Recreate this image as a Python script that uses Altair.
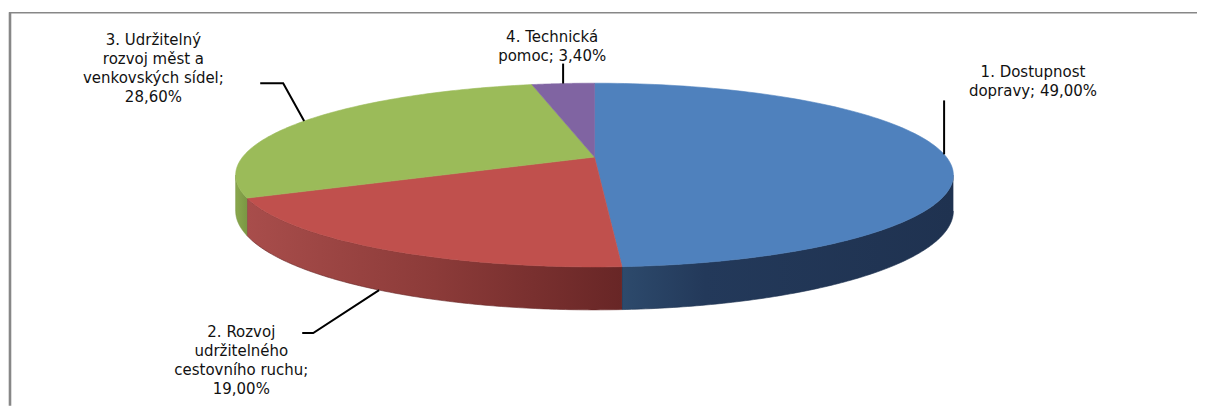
import altair as alt
import pandas as pd

# ---------------- data ----------------
categories = [
    "1. Dostupnost dopravy",
    "2. Rozvoj udržitelného cestovního ruchu",
    "3. Udržitelný rozvoj měst a venkovských sídel",
    "4. Technická pomoc",
]
values = [49.0, 19.0, 28.6, 3.4]
label_texts = [
    "1. Dostupnost\ndopravy; 49,00%",
    "2. Rozvoj\nudržitelného\ncestovního ruchu;\n19,00%",
    "3. Udržitelný\nrozvoj měst a\nvenkovských sídel;\n28,60%",
    "4. Technická\npomoc; 3,40%",
]

# ---------------- styles / layout ----------------
top_colors = ["#4F81BD", "#C0504D", "#9BBB59", "#8064A2"]
wall_stops = [
    [("#2d4a6c", 0.0), ("#23395a", 0.25), ("#1f3250", 1.0)],
    [("#a84d4b", 0.0), ("#8c3b39", 0.5), ("#682626", 1.0)],
    [("#8aa84e", 0.0), ("#7a9643", 1.0)],
    [("#5e4a7a", 0.0), ("#4a3a60", 1.0)],
]
# label text offsets (centre x, first baseline y) relative to the slice anchor
lab_dx = [89, -138, -151, -11]
lab_dy = [-77, 47, -76, -42]
# leader line elbow / end offsets relative to the slice anchor
elb_dx = [0, -66, -21, 0]
elb_dy = [-54, 43, -38, -20]
end_dx = [0, -77, -44, 0]
end_dy = [-54, 43, -38, -20]

W, H = 1190, 398
CX, CY, RX, RY, K, D = 586.5, 149.0, 352.5, 88.5, 0.1957, 34.6
N = 120
AV0 = "acos(-%s)" % K
AV1 = "(2*PI-acos(-%s))" % K

df = pd.DataFrame({
    "idx": list(range(len(categories))),
    "cat": categories,
    "value": values,
    "label": label_texts,
    "lab_dx": lab_dx, "lab_dy": lab_dy,
    "elb_dx": elb_dx, "elb_dy": elb_dy,
    "end_dx": end_dx, "end_dy": end_dy,
})


def px(a):
    return f"({CX}+{RX}*sin({a})/(1+{K}*cos({a})))"


def py(a):
    return f"({CY}-{RY}*cos({a})/(1+{K}*cos({a})))"


def dep(a):
    return f"({D}/(1+{K}*cos({a})))"


X = alt.X("px:Q", scale=alt.Scale(domain=[0, W], nice=False, zero=False), axis=None)
Y = alt.Y("py:Q", scale=alt.Scale(domain=[0, H], nice=False, zero=False, reverse=True), axis=None)

base = (
    alt.Chart(df)
    .transform_joinaggregate(total="sum(value)")
    .transform_window(cum="sum(value)", sort=[alt.SortField("idx")], frame=[None, 0])
    .transform_calculate(
        a0="2*PI*(datum.cum-datum.value)/datum.total",
        a1="2*PI*datum.cum/datum.total",
    )
    .transform_calculate(am="(datum.a0+datum.a1)/2")
)

# ----- side walls -----
walls = []
for k in range(len(categories)):
    grad = alt.Gradient(
        gradient="linear",
        stops=[alt.GradientStop(color=c, offset=o) for c, o in wall_stops[k]],
        x1=0, x2=1, y1=0, y2=0,
    )
    w = (
        base.transform_filter(alt.datum.idx == k)
        .transform_calculate(ws=f"max(datum.a0,{AV0})", we=f"min(datum.a1,{AV1})")
        .transform_filter("datum.ws < datum.we")
        .transform_calculate(steps=f"sequence(0,{2 * N + 2})")
        .transform_flatten(["steps"], as_=["i"])
        .transform_calculate(
            t=f"datum.i<={N} ? datum.i/{N} : ({2 * N + 1}-datum.i)/{N}",
            bot=f"datum.i>{N} ? 1 : 0",
        )
        .transform_calculate(a="datum.ws+(datum.we-datum.ws)*datum.t")
        .transform_calculate(px=px("datum.a"), py=f"{py('datum.a')}+datum.bot*{dep('datum.a')}")
        .mark_line(fill=grad, stroke=wall_stops[k][-1][0], strokeWidth=0.6, interpolate="linear")
        .encode(x=X, y=Y, order=alt.Order("i:Q"))
    )
    walls.append(w)

# ----- top surface -----
top = (
    base.transform_calculate(steps=f"sequence(0,{N + 3})")
    .transform_flatten(["steps"], as_=["i"])
    .transform_calculate(
        t=f"min(max((datum.i-1)/{N},0),1)",
        ctr=f"(datum.i==0 || datum.i=={N + 2}) ? 1 : 0",
    )
    .transform_calculate(a="datum.a0+(datum.a1-datum.a0)*datum.t")
    .transform_calculate(
        px=f"datum.ctr==1 ? {CX} : {px('datum.a')}",
        py=f"datum.ctr==1 ? {CY} : {py('datum.a')}",
    )
    .mark_line(strokeWidth=0.6, interpolate="linear")
    .encode(
        x=X, y=Y,
        order=alt.Order("i:Q"),
        detail="cat:N",
        fill=alt.Fill("cat:N", scale=alt.Scale(domain=categories, range=top_colors), legend=None),
        stroke=alt.Stroke("cat:N", scale=alt.Scale(domain=categories, range=top_colors), legend=None),
    )
)

anchored = (
    base.transform_calculate(inwall=f"(datum.am > {AV0} && datum.am < {AV1}) ? 1 : 0")
    .transform_calculate(
        ax=px("datum.am"),
        ay=f"{py('datum.am')}+datum.inwall*{dep('datum.am')}",
    )
)

# ----- leader lines -----
leaders = (
    anchored.transform_calculate(steps="sequence(0,3)")
    .transform_flatten(["steps"], as_=["j"])
    .transform_calculate(
        px="datum.ax + (datum.j==0 ? 0 : (datum.j==1 ? datum.elb_dx : datum.end_dx))",
        py="datum.ay + (datum.j==0 ? 0 : (datum.j==1 ? datum.elb_dy : datum.end_dy))",
    )
    .mark_line(color="#000000", strokeWidth=2)
    .encode(x=X, y=Y, order=alt.Order("j:Q"), detail="cat:N")
)

# ----- labels -----
labels = (
    anchored.transform_calculate(px="datum.ax+datum.lab_dx", py="datum.ay+datum.lab_dy")
    .mark_text(
        font="DejaVu Sans", fontSize=15, lineBreak="\n", lineHeight=19,
        align="center", baseline="alphabetic", color="#111111",
    )
    .encode(x=X, y=Y, text="label:N")
)

# ----- chart frame -----
frame_src = alt.Chart(pd.DataFrame({"k": [0]}))
frame_left = frame_src.mark_rule(color="#878787", strokeWidth=2.6).encode(
    x=alt.value(1), y=alt.value(4), y2=alt.value(H)
)
frame_top = frame_src.mark_rule(color="#878787", strokeWidth=1.5).encode(
    x=alt.value(0), x2=alt.value(W), y=alt.value(4.3)
)

chart = (
    alt.layer(*walls, top, leaders, labels, frame_left, frame_top)
    .properties(width=W, height=H, padding=0, background="white")
    .configure_view(stroke=None)
)

chart.save("out.html", embed_options={"renderer": "svg", "actions": False})
